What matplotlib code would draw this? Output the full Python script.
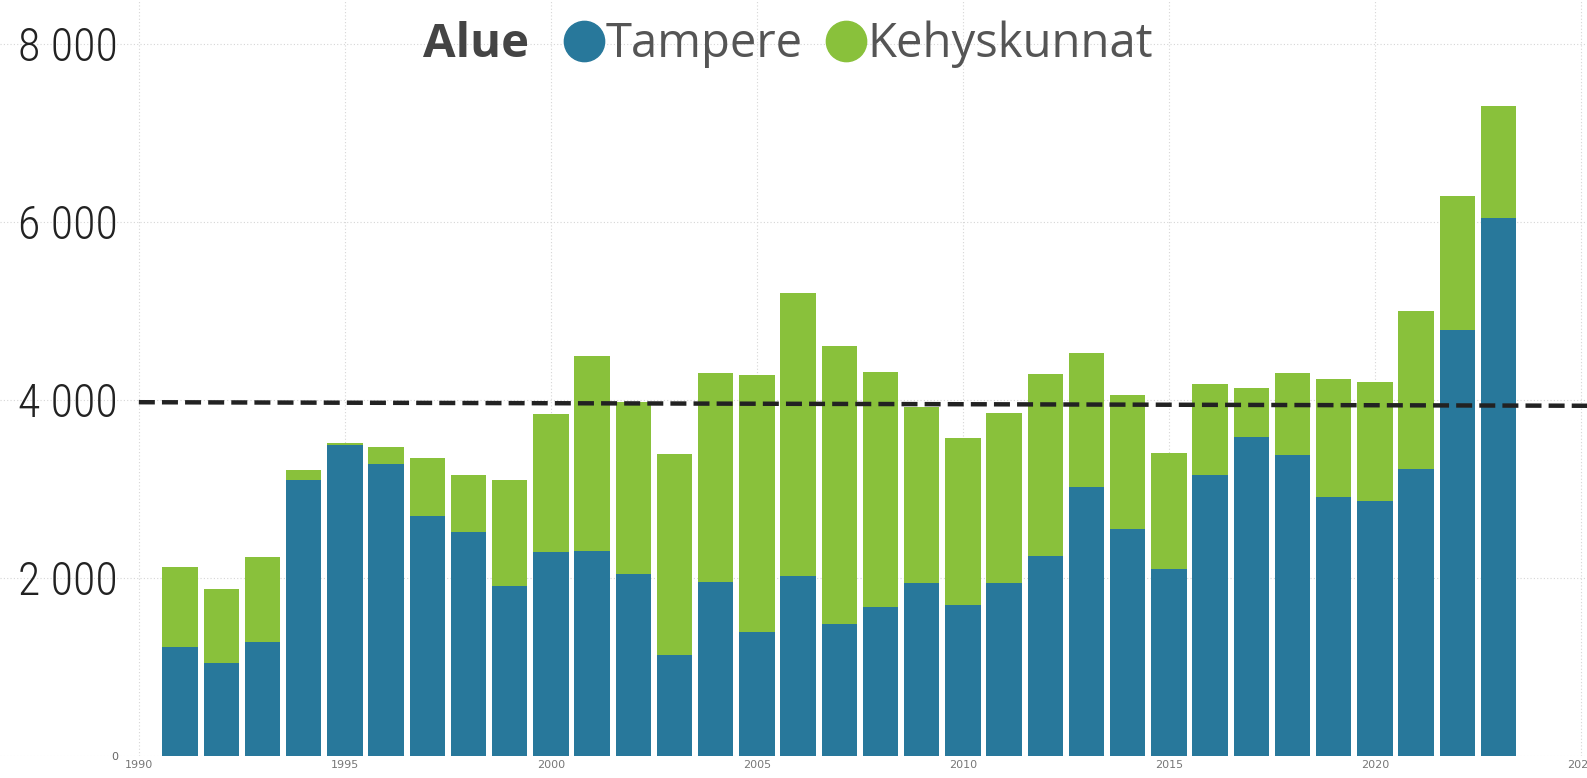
import matplotlib
matplotlib.use("Agg")
import matplotlib.pyplot as plt
from matplotlib.lines import Line2D
import numpy as np

# data
years = list(range(1991, 2024))
tampere = [1220, 1045, 1280, 3100, 3490, 3280, 2700, 2520, 1910, 2290,
           2300, 2045, 1135, 1955, 1395, 2020, 1483, 1675, 1945, 1697,
           1945, 2250, 3025, 2555, 2105, 3160, 3585, 3386, 2905, 2870,
           3220, 4790, 6045]
totals = [2120, 1872, 2238, 3213, 3518, 3475, 3348, 3160, 3105, 3845,
          4495, 3975, 3395, 4305, 4283, 5205, 4610, 4315, 3925, 3575,
          3858, 4295, 4533, 4056, 3400, 4180, 4140, 4307, 4233, 4205,
          4998, 6295, 7298]
kehys = [t - b for t, b in zip(totals, tampere)]

ref_x = [1990, 2025.2]
ref_y = [3975, 3935]

y_ticks = [0, 2000, 4000, 6000, 8000]
y_labels = ["0", "2 000", "4 000", "6 000", "8 000"]
x_ticks = [1990, 1995, 2000, 2005, 2010, 2015, 2020, 2025]

blue = "#28789b"
green = "#89c13b"

W, H = 1587, 778
fig = plt.figure(figsize=(W / 100, H / 100), dpi=100)
ax = fig.add_axes([0, 22 / H, 1, 756 / H])

ax.bar(years, tampere, width=0.86, color=blue, zorder=2)
ax.bar(years, kehys, bottom=tampere, width=0.86, color=green, zorder=2)
ax.plot(ref_x, ref_y, color="#222222", lw=3.2, dashes=(3.6, 1.6), zorder=3,
        solid_capstyle="butt")

ax.set_xlim(1986.63, 2025.15)
ax.set_ylim(0, 8494)
for s in ax.spines.values():
    s.set_visible(False)

ax.set_xticks(x_ticks)
ax.set_xticklabels([str(x) for x in x_ticks])
ax.set_yticks(y_ticks)
ax.set_yticklabels(y_labels)
ax.tick_params(axis="x", length=0, pad=3, labelsize=8, labelcolor="#777777")
ax.tick_params(axis="y", length=0, pad=-85)
for lbl in ax.get_yticklabels():
    if lbl.get_text() == "0":
        lbl.set_fontsize(8)
        lbl.set_color("#666666")
    else:
        lbl.set_fontsize(33)
        lbl.set_color("#222222")
        lbl.set_fontweight("light")
        lbl.set_family(["Roboto Condensed", "Liberation Sans Narrow", "DejaVu Sans"])
ax.grid(True, color="#d6d6d6", ls=(0, (1, 2)), lw=0.8, zorder=0)

handles = [
    Line2D([], [], ls="none", marker=None),
    Line2D([], [], ls="none", marker="o", ms=29, color=blue),
    Line2D([], [], ls="none", marker="o", ms=29, color=green),
]
leg = fig.legend(handles, ["Alue ", "Tampere", "Kehyskunnat"], ncol=3,
                 loc="center", bbox_to_anchor=(0.483, 0.943), frameon=False,
                 prop={"family": "Open Sans", "size": 34},
                 handlelength=0.9, handletextpad=0.02, columnspacing=0.45,
                 borderpad=0)
for t in leg.get_texts():
    t.set_color("#555555")
leg.get_texts()[0].set_fontweight("bold")
leg.get_texts()[0].set_color("#444444")

fig.savefig("out.png", dpi=100)
